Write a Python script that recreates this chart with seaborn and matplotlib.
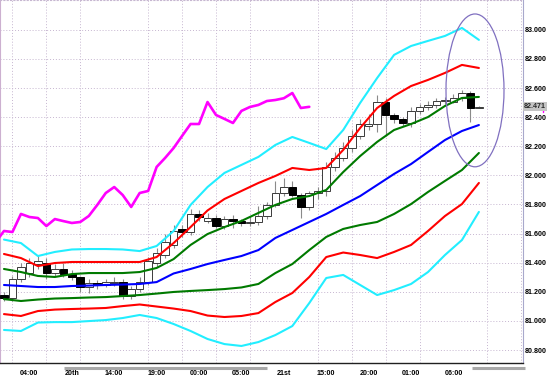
import numpy as np
import matplotlib
matplotlib.use('Agg')
import matplotlib.pyplot as plt
import matplotlib.transforms as mtransforms
from matplotlib.patches import Ellipse
import seaborn as sns

# hourly candles (index 0..56)
opens = [81.18, 81.16, 81.29, 81.33, 81.39, 81.40, 81.33, 81.36, 81.32, 81.30,
         81.23, 81.26, 81.25, 81.26, 81.27, 81.17, 81.22, 81.27, 81.40, 81.45,
         81.52, 81.63, 81.61, 81.735, 81.69, 81.71, 81.652, 81.70, 81.686, 81.67,
         81.68, 81.72, 81.797, 81.88, 81.92, 81.865, 81.783, 81.879, 81.893, 82.058,
         82.12, 82.188, 82.271, 82.34, 82.353, 82.504, 82.415, 82.388, 82.36, 82.443,
         82.47, 82.484, 82.511, 82.505, 82.53, 82.566, 82.463]
highs = [81.20, 81.31, 81.40, 81.43, 81.45, 81.43, 81.39, 81.40, 81.35, 81.31,
         81.29, 81.28, 81.29, 81.30, 81.29, 81.24, 81.30, 81.44, 81.50, 81.60,
         81.66, 81.66, 81.77, 81.76, 81.74, 81.73, 81.72, 81.73, 81.70, 81.72,
         81.79, 81.82, 81.96, 81.98, 81.96, 81.88, 81.89, 81.92, 82.09, 82.16,
         82.23, 82.31, 82.39, 82.42, 82.55, 82.53, 82.43, 82.40, 82.47, 82.49,
         82.51, 82.53, 82.54, 82.56, 82.59, 82.58, 82.48]
lows = [81.14, 81.14, 81.27, 81.30, 81.36, 81.29, 81.31, 81.30, 81.28, 81.20,
        81.19, 81.22, 81.23, 81.24, 81.15, 81.15, 81.20, 81.25, 81.37, 81.43,
        81.50, 81.58, 81.59, 81.69, 81.67, 81.64, 81.63, 81.64, 81.65, 81.65,
        81.66, 81.70, 81.78, 81.86, 81.85, 81.71, 81.76, 81.84, 81.86, 82.03,
        82.10, 82.16, 82.25, 82.31, 82.30, 82.27, 82.36, 82.34, 82.33, 82.42,
        82.45, 82.46, 82.49, 82.50, 82.51, 82.37, 82.46]
closes = [81.16, 81.29, 81.37, 81.40, 81.41, 81.33, 81.36, 81.32, 81.30, 81.23,
          81.26, 81.25, 81.27, 81.27, 81.17, 81.22, 81.27, 81.41, 81.47, 81.54,
          81.618, 81.611, 81.735, 81.714, 81.707, 81.652, 81.70, 81.686, 81.673, 81.68,
          81.721, 81.797, 81.879, 81.92, 81.865, 81.783, 81.879, 81.893, 82.058, 82.12,
          82.188, 82.271, 82.353, 82.353, 82.504, 82.415, 82.388, 82.36, 82.443, 82.47,
          82.484, 82.511, 82.518, 82.53, 82.566, 82.463, 82.471]

# bands read every 2 candles
band_x = list(range(0, 57, 2))
upper3 = [81.559, 81.535, 81.446, 81.474, 81.491, 81.494, 81.494, 81.491, 81.480, 81.515,
          81.618, 81.797, 81.920, 82.017, 82.072, 82.127, 82.209, 82.264, 82.223, 82.181,
          82.312, 82.498, 82.669, 82.828, 82.889, 82.924, 82.958, 83.013, 82.931]
upper2 = [81.460, 81.432, 81.377, 81.398, 81.405, 81.405, 81.405, 81.405, 81.405, 81.439,
          81.535, 81.645, 81.759, 81.838, 81.893, 81.948, 81.996, 82.051, 82.037, 82.051,
          82.175, 82.326, 82.463, 82.546, 82.614, 82.656, 82.704, 82.759, 82.738]
upper1 = [81.357, 81.336, 81.309, 81.302, 81.322, 81.329, 81.329, 81.329, 81.336, 81.364,
          81.425, 81.522, 81.597, 81.645, 81.687, 81.742, 81.797, 81.838, 81.858, 81.900,
          82.023, 82.133, 82.230, 82.312, 82.353, 82.401, 82.477, 82.532, 82.539]
middle = [81.247, 81.240, 81.233, 81.233, 81.240, 81.243, 81.247, 81.250, 81.254, 81.267,
          81.326, 81.357, 81.391, 81.419, 81.446, 81.487, 81.570, 81.625, 81.680, 81.735,
          81.797, 81.858, 81.934, 82.010, 82.078, 82.161, 82.243, 82.305, 82.346]
lower1 = [81.150, 81.137, 81.147, 81.154, 81.157, 81.161, 81.164, 81.171, 81.178, 81.188,
          81.199, 81.206, 81.212, 81.219, 81.230, 81.254, 81.329, 81.391, 81.487, 81.577,
          81.632, 81.659, 81.680, 81.735, 81.803, 81.886, 81.962, 82.037, 82.154]
lower2 = [81.047, 81.034, 81.068, 81.078, 81.082, 81.085, 81.089, 81.102, 81.113, 81.099,
          81.085, 81.068, 81.037, 81.027, 81.034, 81.054, 81.130, 81.192, 81.302, 81.439,
          81.470, 81.453, 81.432, 81.474, 81.522, 81.618, 81.721, 81.803, 81.948]
lower3 = [80.938, 80.931, 80.989, 80.992, 80.992, 80.999, 81.006, 81.020, 81.041, 81.020,
          80.979, 80.931, 80.876, 80.841, 80.828, 80.855, 80.903, 80.965, 81.123, 81.295,
          81.316, 81.247, 81.178, 81.212, 81.254, 81.336, 81.453, 81.556, 81.749]

lag = 20  # lagging close line
x_tick_pos = [3, 8, 13, 18, 23, 28, 33, 38, 43, 48, 53]
x_tick_labels = ['04:00', '20th', '14:00', '19:00', '00:00', '05:00',
                 '21st', '15:00', '20:00', '01:00', '06:00']
y_ticks = [80.8, 81.0, 81.2, 81.4, 81.6, 81.8, 82.0, 82.2, 82.4, 82.6, 82.8, 83.0]
last_price = 82.471

sns.set_style('white')
plt.rcParams['font.family'] = ['Liberation Sans', 'DejaVu Sans']

fig = plt.figure(figsize=(5.48, 3.81), dpi=100)
ax = fig.add_axes([0.0, 18 / 381, 523 / 548, 363 / 381])

idx = np.arange(len(closes))
o = np.array(opens)
c = np.array(closes)
lo_body = np.minimum(o, c)
h_body = np.maximum(np.abs(c - o), 0.006)
up = c >= o

ax.vlines(idx, lows, highs, color='#8a8a8a', lw=0.8, zorder=2)
ax.bar(idx[up], h_body[up], bottom=lo_body[up], width=0.9, facecolor='white',
       edgecolor='#3a3a3a', lw=0.7, zorder=3)
ax.bar(idx[~up], h_body[~up], bottom=lo_body[~up], width=0.9, facecolor='black',
       edgecolor='black', lw=0.7, zorder=3)

bands = [(upper3, '#22eeff'), (upper2, '#ff0000'), (upper1, '#007a00'), (middle, '#0000ff'),
         (lower1, '#007a00'), (lower2, '#ff0000'), (lower3, '#22eeff')]
for vals, col in bands:
    sns.lineplot(x=band_x, y=vals, color=col, lw=1.5, ax=ax, zorder=4)

sns.lineplot(x=idx[lag - 1:] - lag, y=c[lag - 1:], color='#ff00ff', lw=1.9,
             ax=ax, zorder=4, sort=False, estimator=None)

ax.add_patch(Ellipse((55.54, 82.584), 6.84, 1.05, fill=False,
                     edgecolor='#8070c0', lw=0.9, zorder=5))

ax.set_xlim(-0.47, 61.2)
ax.set_ylim(80.711, 83.205)

ax.set_xticks(x_tick_pos)
ax.set_xticklabels(x_tick_labels)
ax.set_xticks(range(1, 62, 4), minor=True)
ax.yaxis.tick_right()
ax.set_yticks(y_ticks)
ax.set_yticklabels([f'{v:.3f}' for v in y_ticks])
ax.tick_params(axis='both', which='both', length=0, labelsize=5.1, colors='black')
for lab in ax.get_xticklabels() + ax.get_yticklabels():
    lab.set_fontweight('bold')
ax.tick_params(axis='x', pad=5)
ax.tick_params(axis='y', pad=1)
ax.grid(True, axis='y', which='major', color='#c6b6d0', ls=(0, (1, 2)), lw=0.7)
ax.grid(True, axis='x', which='minor', color='#c6b6d0', ls=(0, (1, 2)), lw=0.7)
ax.set_axisbelow(True)

ax.spines['bottom'].set_color('#202020')
ax.spines['bottom'].set_linewidth(1.0)
ax.spines['right'].set_color('#a8a8cc')
ax.spines['left'].set_color('#ccb0d0')
ax.spines['top'].set_color('#c6b6d0')
ax.spines['top'].set_linestyle((0, (1, 2)))
ax.set_xlabel('')
ax.set_ylabel('')

# last price tag
trans = mtransforms.blended_transform_factory(ax.transAxes, ax.transData)
ax.text(1.002, last_price, f'{last_price:.3f}', transform=trans, ha='left', va='center',
        fontsize=5.1, fontweight='bold',
        bbox=dict(facecolor='#c4c4c4', edgecolor='none', pad=0.6), zorder=6)
ax.plot([1.038, 1.038], [last_price - 0.035, last_price + 0.035], transform=trans,
        color='#ff00ff', lw=1.0, clip_on=False)

# session bars under the axis
trans2 = mtransforms.blended_transform_factory(ax.transData, ax.transAxes)
for x0, x1 in [(7.1, 31.0), (55.2, 61.4)]:
    ax.plot([x0, x1], [-0.014, -0.014], transform=trans2, color='#a8a8a8', lw=2.2,
            solid_capstyle='butt', clip_on=False)

fig.savefig('out.png', dpi=100)
